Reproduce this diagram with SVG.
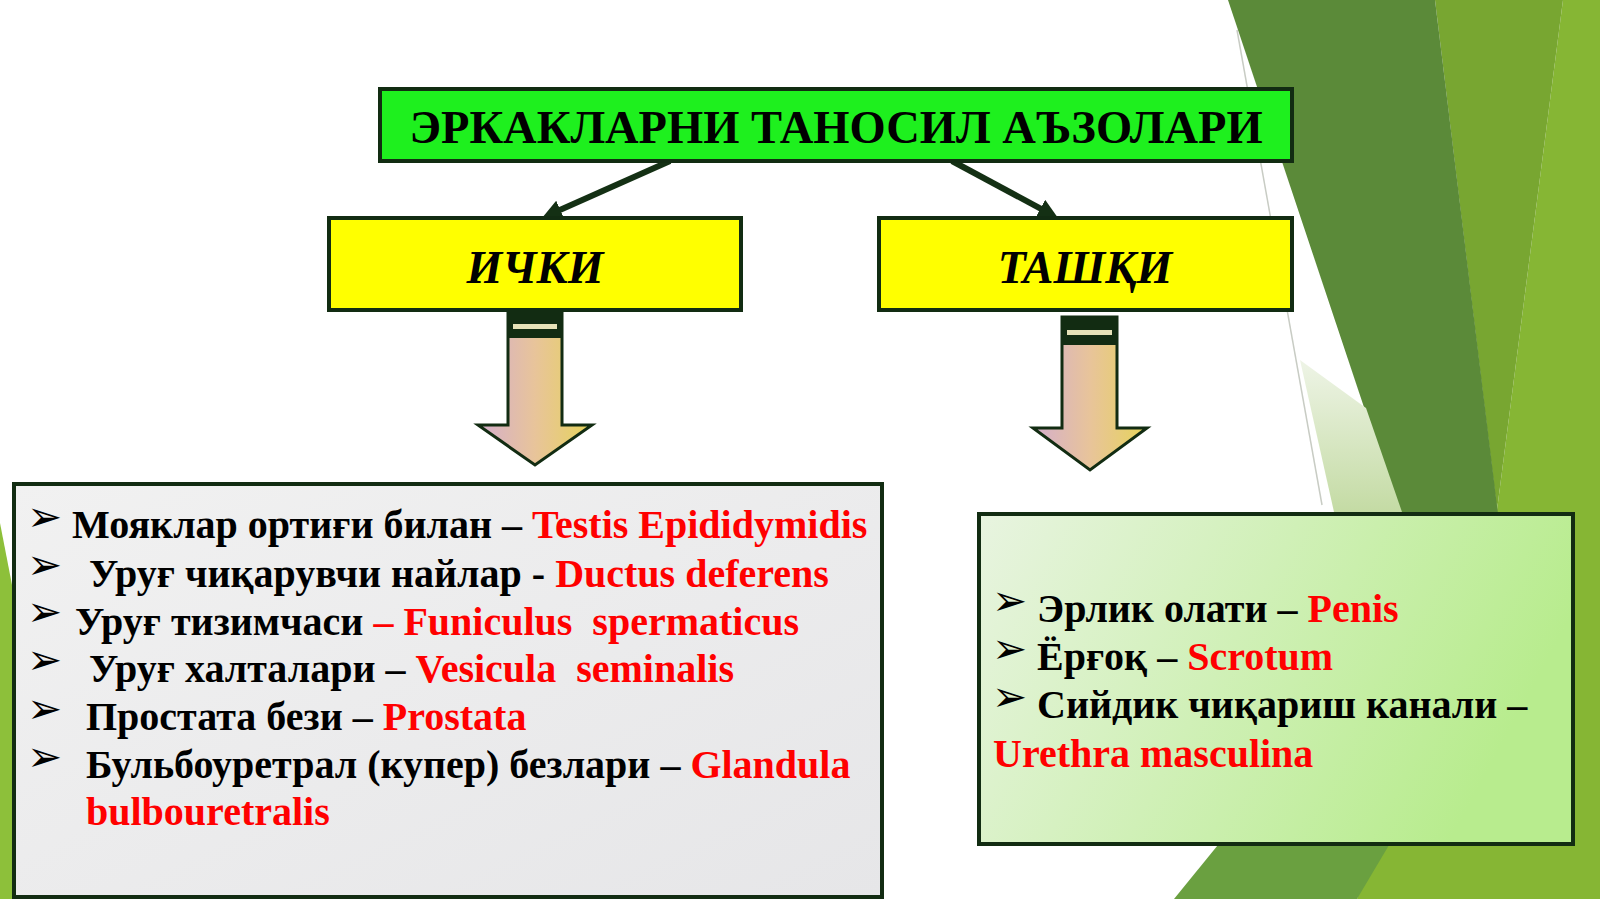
<svg xmlns="http://www.w3.org/2000/svg" width="1600" height="899" viewBox="0 0 1600 899">
<defs>
<linearGradient id="arrowGrad" x1="0" y1="0" x2="1" y2="0">
<stop offset="0" stop-color="#d4aecc"/>
<stop offset="0.5" stop-color="#e8c49a"/>
<stop offset="1" stop-color="#e6d45a"/>
</linearGradient>
<linearGradient id="grayGrad" x1="0" y1="0" x2="1" y2="1">
<stop offset="0" stop-color="#f1f1f1"/>
<stop offset="1" stop-color="#e6e6e8"/>
</linearGradient>
<linearGradient id="greenGrad" x1="0" y1="0" x2="1" y2="0.3">
<stop offset="0" stop-color="#e8f4e0"/>
<stop offset="1" stop-color="#b8ec8e"/>
</linearGradient>
<linearGradient id="paleGrad" x1="0" y1="0" x2="0" y2="1">
<stop offset="0" stop-color="#eef4e6"/>
<stop offset="1" stop-color="#c4dba4"/>
</linearGradient>
<marker id="ah" viewBox="0 0 20 20" markerWidth="20" markerHeight="20" refX="6" refY="10" orient="auto" markerUnits="userSpaceOnUse">
<path d="M0,0 L20,10 L0,20 z" fill="#143014"/>
</marker>
<style>
.bd{stroke:#122c12;stroke-width:4}
.t{font-family:"Liberation Serif","Times New Roman",serif;font-weight:bold;white-space:pre}
.li{font-size:40px;fill:#000}
.r{fill:#ff0000}
.bul{font-family:"DejaVu Sans",sans-serif;font-size:42px;fill:#000}
.conn{stroke:#143014;stroke-width:6;fill:none}
.blk{stroke:#122c12;stroke-width:3}
.dk{fill:#122c12}
</style>
</defs>

<g id="background">
<rect x="0" y="0" width="1600" height="899" fill="#ffffff"/>
<polygon points="1563,0 1600,0 1600,899 1357,899 1497,510" fill="#86b634"/>
<polygon points="1435,0 1563,0 1497,510" fill="#78a631"/>
<polygon points="1228,0 1435,0 1500,530 1405,530" fill="#5b8a39"/>
<polygon points="1300,360 1366,408 1402,512 1334,512" fill="url(#paleGrad)"/>
<polygon points="1174,899 1222,840 1392,840 1357,899" fill="#6aa040"/>
<line x1="1237" y1="30" x2="1322" y2="505" stroke="#c8ccc4" stroke-width="1.5"/>
<polygon points="0,523 13,590 13,899 0,899" fill="#8dc03a"/>
</g>

<g id="connectors">
<line class="conn" x1="670" y1="161" x2="554.8" y2="212.3" marker-end="url(#ah)"/>
<line class="conn" x1="952" y1="161" x2="1045.7" y2="211.4" marker-end="url(#ah)"/>
<g id="arrow-inner">
<polygon class="blk" points="508,310 562,310 562,425 592,425 535,465 478,425 508,425" fill="url(#arrowGrad)"/>
<rect class="dk" x="508" y="310" width="54" height="28"/>
<rect x="513" y="324" width="44" height="5" fill="#e6e2b8"/>
</g>
<g id="arrow-outer">
<polygon class="blk" points="1062,317 1117,317 1117,428 1147,428 1090,470 1033,428 1062,428" fill="url(#arrowGrad)"/>
<rect class="dk" x="1062" y="317" width="55" height="28"/>
<rect x="1067" y="330" width="45" height="5" fill="#e6e2b8"/>
</g>
</g>

<g id="node-title">
<rect class="bd" x="380" y="89" width="912" height="72" fill="#1ef01e" stroke-width="5"/>
<text class="t" x="836" y="143" font-size="46.5" text-anchor="middle" fill="#000">ЭРКАКЛАРНИ ТАНОСИЛ АЪЗОЛАРИ</text>
</g>

<g id="node-inner">
<rect class="bd" x="329" y="218" width="412" height="92" fill="#ffff00"/>
<text class="t" x="535" y="283" font-size="46" font-style="italic" text-anchor="middle" fill="#000">ИЧКИ</text>
</g>

<g id="node-outer">
<rect class="bd" x="879" y="218" width="413" height="92" fill="#ffff00"/>
<text class="t" x="1085" y="283" font-size="46" font-style="italic" text-anchor="middle" fill="#000">ТАШҚИ</text>
</g>

<g id="node-inner-list">
<rect class="bd" x="14" y="484" width="868" height="413" fill="url(#grayGrad)"/>
<text class="bul" x="27" y="531">➢</text>
<text class="bul" x="27" y="579">➢</text>
<text class="bul" x="27" y="626">➢</text>
<text class="bul" x="27" y="674">➢</text>
<text class="bul" x="27" y="723">➢</text>
<text class="bul" x="27" y="771">➢</text>
<text class="t li" x="72" y="538">Мояклар ортиғи билан – <tspan class="r">Testis Epididymidis</tspan></text>
<text class="t li" x="89" y="587">Уруғ чиқарувчи найлар - <tspan class="r">Ductus deferens</tspan></text>
<text class="t li" x="75" y="635">Уруғ тизимчаси <tspan class="r">– Funiculus  spermaticus</tspan></text>
<text class="t li" x="89" y="682">Уруғ халталари – <tspan class="r">Vesicula  seminalis</tspan></text>
<text class="t li" x="86" y="730">Простата бези – <tspan class="r">Prostata</tspan></text>
<text class="t li" x="86" y="778">Бульбоуретрал (купер) безлари – <tspan class="r">Glandula</tspan></text>
<text class="t li r" x="86" y="825">bulbouretralis</text>
</g>

<g id="node-outer-list">
<rect class="bd" x="979" y="514" width="594" height="330" fill="url(#greenGrad)"/>
<text class="bul" x="992" y="615">➢</text>
<text class="bul" x="992" y="663">➢</text>
<text class="bul" x="992" y="711">➢</text>
<text class="t li" x="1037" y="622">Эрлик олати – <tspan class="r">Penis</tspan></text>
<text class="t li" x="1037" y="670">Ёрғоқ – <tspan class="r">Scrotum</tspan></text>
<text class="t li" x="1037" y="718">Сийдик чиқариш канали –</text>
<text class="t li r" x="993" y="767">Urethra masculina</text>
</g>
</svg>
